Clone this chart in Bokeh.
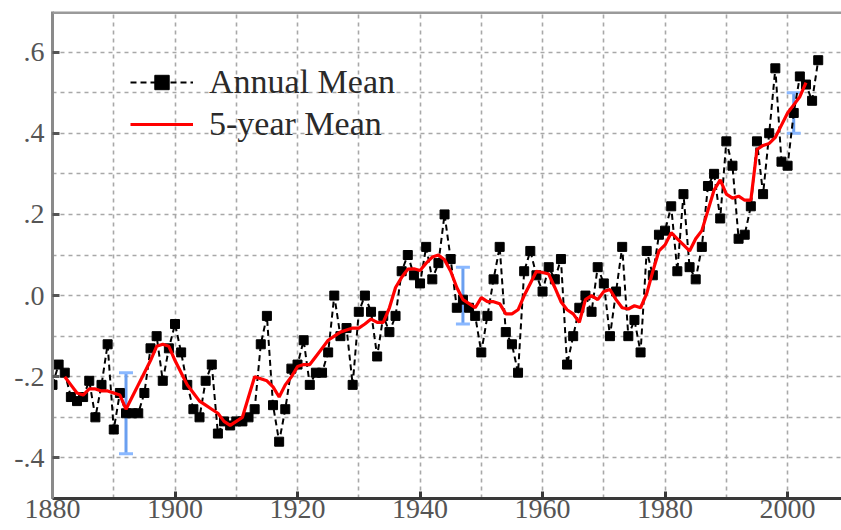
from bokeh.plotting import figure
from bokeh.models import (FixedTicker, Legend, LegendItem, Whisker, TeeHead,
                          ColumnDataSource, Span)
from bokeh.embed import file_html
from bokeh.resources import INLINE

# ---------------- data ----------------
years = list(range(1880, 2006))
annual_mean = [
    -0.22, -0.17, -0.19, -0.25, -0.26, -0.25, -0.21, -0.30, -0.22, -0.12,   # 1880s
    -0.33, -0.24, -0.29, -0.29, -0.29, -0.24, -0.13, -0.10, -0.21, -0.13,   # 1890s
    -0.07, -0.14, -0.22, -0.28, -0.30, -0.21, -0.17, -0.34, -0.31, -0.32,   # 1900s
    -0.31, -0.31, -0.30, -0.28, -0.12, -0.05, -0.27, -0.36, -0.28, -0.18,   # 1910s
    -0.17, -0.11, -0.22, -0.19, -0.19, -0.14, 0.00, -0.10, -0.08, -0.22,    # 1920s
    -0.04, 0.00, -0.04, -0.15, -0.05, -0.09, -0.05, 0.06, 0.10, 0.05,       # 1930s
    0.03, 0.12, 0.04, 0.08, 0.20, 0.09, -0.03, -0.01, -0.03, -0.05,         # 1940s
    -0.14, -0.05, 0.04, 0.12, -0.09, -0.12, -0.19, 0.06, 0.11, 0.05,        # 1950s
    0.01, 0.07, 0.04, 0.09, -0.17, -0.10, -0.03, 0.00, -0.04, 0.07,         # 1960s
    0.03, -0.10, 0.01, 0.12, -0.10, -0.06, -0.14, 0.11, 0.05, 0.15,         # 1970s
    0.16, 0.22, 0.06, 0.25, 0.07, 0.04, 0.12, 0.27, 0.30, 0.19,             # 1980s
    0.38, 0.32, 0.14, 0.15, 0.22, 0.38, 0.25, 0.40, 0.56, 0.33,             # 1990s
    0.32, 0.45, 0.54, 0.52, 0.48, 0.58,                                     # 2000s
]

smooth_years = list(range(1882, 2004))
five_year_mean = [
    -0.20, -0.22, -0.24, -0.245, -0.23, -0.23, -0.235, -0.235,              # 1882-1889
    -0.24, -0.245, -0.28, -0.25, -0.22, -0.19, -0.16, -0.125, -0.12, -0.125,  # 1890s
    -0.16, -0.19, -0.22, -0.24, -0.26, -0.27, -0.28, -0.29, -0.31, -0.32,   # 1900s
    -0.31, -0.30, -0.25, -0.20, -0.205, -0.21, -0.225, -0.25, -0.22, -0.20,  # 1910s
    -0.175, -0.17, -0.17, -0.15, -0.13, -0.11, -0.10, -0.09, -0.085, -0.08,  # 1920s
    -0.08, -0.07, -0.058, -0.066, -0.066, -0.03, 0.02, 0.045, 0.065, 0.066,  # 1930s
    0.062, 0.08, 0.095, 0.10, 0.088, 0.06, 0.02, -0.01, -0.02, -0.03,       # 1940s
    -0.005, -0.015, -0.015, -0.02, -0.045, -0.045, -0.035, 0.0, 0.03, 0.06,  # 1950s
    0.057, 0.053, 0.02, -0.015, -0.035, -0.045, -0.066, -0.01, 0.0, -0.01,  # 1960s
    0.01, 0.015, -0.01, -0.03, -0.033, -0.025, -0.03, 0.005, 0.06, 0.11,    # 1970s
    0.125, 0.155, 0.14, 0.125, 0.11, 0.14, 0.16, 0.21, 0.26, 0.285,         # 1980s
    0.25, 0.24, 0.245, 0.235, 0.235, 0.36, 0.37, 0.375, 0.39, 0.42,         # 1990s
    0.45, 0.47, 0.49, 0.525,                                                # 2000-2003
]

err_years = [1892, 1947, 2001]
err_lower = [-0.39, -0.07, 0.40]
err_upper = [-0.19, 0.07, 0.50]

x_label_ticks = [1880, 1900, 1920, 1940, 1960, 1980, 2000]
x_grid_ticks = list(range(1880, 2010, 10))
y_label_ticks = [-0.4, -0.2, 0.0, 0.2, 0.4, 0.6]
y_label_texts = ["-.4", "-.2", ".0", ".2", ".4", ".6"]
y_grid_ticks = [-0.4, -0.3, -0.2, -0.1, 0.0, 0.1, 0.2, 0.3, 0.4, 0.5, 0.6]

series_names = ["Annual Mean", "5-year Mean"]

# ---------------- figure ----------------
FONT = "Liberation Serif"
p = figure(width=841, height=530, x_range=(1880, 2008.8), y_range=(-0.5, 0.7),
           output_backend="svg", toolbar_location=None,
           min_border_left=52, min_border_right=0, min_border_top=11,
           min_border_bottom=32)
p.background_fill_color = "white"
p.border_fill_color = "white"
p.outline_line_color = None

# grid
p.xgrid.ticker = FixedTicker(ticks=x_grid_ticks)
p.ygrid.ticker = FixedTicker(ticks=y_grid_ticks)
for g in (p.xgrid, p.ygrid):
    g.grid_line_color = "#a8a8a8"
    g.grid_line_dash = "4 4"
    g.grid_line_width = 1.6

# axes
p.xaxis.ticker = FixedTicker(ticks=x_label_ticks)
p.yaxis.ticker = FixedTicker(ticks=y_label_ticks)
p.yaxis.major_label_overrides = dict(zip(y_label_ticks, y_label_texts))
for ax in (p.xaxis, p.yaxis):
    ax.major_label_text_font = FONT
    ax.major_label_text_font_size = "28px"
    ax.major_label_text_color = "#555555"
    ax.major_tick_in = 7
    ax.major_tick_out = 0
    ax.minor_tick_in = 0
    ax.minor_tick_out = 0
    ax.major_tick_line_width = 3
ax = p.xaxis[0]
ax.axis_line_color = "#3a3a3a"
ax.axis_line_width = 3
ax.major_tick_line_color = "#3a3a3a"
ax.major_label_standoff = 1
ay = p.yaxis[0]
ay.axis_line_color = "#8a8a8a"
ay.axis_line_width = 3
ay.major_tick_line_color = "#555555"
ay.major_label_standoff = 8

# top border
p.add_layout(Span(location=0.7, dimension="width", line_color="#9a9a9a",
                  line_width=5))

# ---------------- series ----------------
src = ColumnDataSource(dict(x=years, y=annual_mean))
ann_line = p.line("x", "y", source=src, line_color="black", line_width=2,
                  line_dash="6 4")
ann_pts = p.scatter("x", "y", source=src, marker="square", size=9,
                    fill_color="black", line_color="black")

src5 = ColumnDataSource(dict(x=smooth_years, y=five_year_mean))
red_line = p.line("x", "y", source=src5, line_color="#ff0000", line_width=3.2)

esrc = ColumnDataSource(dict(x=err_years, lo=err_lower, hi=err_upper))
blue = "#6a9ff0"
p.add_layout(Whisker(base="x", lower="lo", upper="hi", source=esrc,
                     line_color=blue, line_width=3,
                     lower_head=TeeHead(size=14, line_color="#8ab8ff", line_width=3),
                     upper_head=TeeHead(size=14, line_color="#8ab8ff", line_width=3)))

# ---------------- legend ----------------
legend = Legend(items=[LegendItem(label=series_names[0], renderers=[ann_line, ann_pts]),
                       LegendItem(label=series_names[1], renderers=[red_line])],
                location=(78, 355))
legend.label_text_font = FONT
legend.label_text_font_size = "34px"
legend.label_text_color = "#2a2a2a"
legend.glyph_width = 63
legend.glyph_height = 36
legend.label_height = 36
legend.label_standoff = 16
legend.spacing = 4
legend.padding = 0
legend.margin = 0
legend.border_line_color = None
legend.background_fill_alpha = 0
p.add_layout(legend)

open("out.html", "w").write(file_html(p, INLINE))
